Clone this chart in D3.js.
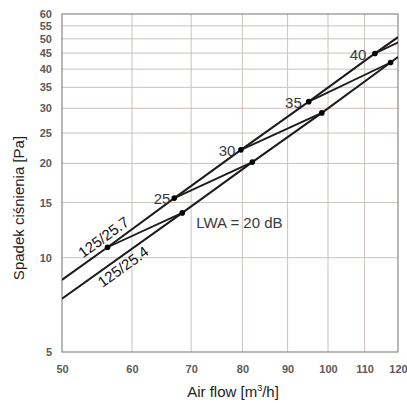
<!DOCTYPE html>
<meta charset="utf-8">
<script src="https://d3js.org/d3.v7.min.js"></script>
<style>
  body { margin: 0; background: #fff; }
  svg text { font-family: "Liberation Sans", Arial, sans-serif; }
</style>
<div id="chart"></div>
<script>
// data
var xTicks = [50, 60, 70, 80, 90, 100, 110, 120];
var yTicks = [5, 10, 15, 20, 25, 30, 35, 40, 45, 50, 55, 60];

// 125/25.7 (upper line)
var upperFlow = [50, 56.3, 67.0, 79.7, 95.1, 113.0, 120];
var upperDp   = [8.5, 10.8, 15.5, 22.1, 31.5, 44.9, 50.6];
// 125/25.4 (lower line)
var lowerFlow = [50, 68.4, 82.1, 98.4, 117.7, 120];
var lowerDp   = [7.4, 13.9, 20.2, 29.0, 42.0, 43.7];

// LWA points on each line (dB)
var lwaLevels = [20, 25, 30, 35, 40];
var lwaUpperFlow = [56.3, 67.0, 79.7, 95.1, 113.0];
var lwaUpperDp   = [10.8, 15.5, 22.1, 31.5, 44.9];
var lwaLowerFlow = [68.4, 82.1, 98.4, 117.7, 139.9];
var lwaLowerDp   = [13.9, 20.2, 29.0, 42.0, 59.7];

var W = 407, H = 403;
var margin = {top: 14, right: 9, bottom: 51, left: 62},
    width = W - margin.left - margin.right,
    height = H - margin.top - margin.bottom;

var svg = d3.select("#chart").append("svg")
    .attr("width", W)
    .attr("height", H);

var g = svg.append("g")
    .attr("transform", `translate(${margin.left},${margin.top})`);

var x = d3.scaleLog().domain([50, 120]).range([0, width]);
var y = d3.scaleLog().domain([5, 60]).range([height, 0]);

g.append("clipPath").attr("id", "clip")
  .append("rect").attr("width", width).attr("height", height);

// grid
g.append("g")
  .selectAll("line")
  .data(yTicks.slice(1, -1))
  .join("line")
    .attr("x1", 0).attr("x2", width)
    .attr("y1", d => y(d)).attr("y2", d => y(d))
    .attr("stroke", "#cbc0bd").attr("stroke-width", 1);
g.append("g")
  .selectAll("line")
  .data(xTicks.slice(1, -1))
  .join("line")
    .attr("y1", 0).attr("y2", height)
    .attr("x1", d => x(d)).attr("x2", d => x(d))
    .attr("stroke", "#cbc0bd").attr("stroke-width", 1);

// frame
g.append("rect")
  .attr("width", width).attr("height", height)
  .attr("fill", "none").attr("stroke", "#8c8886").attr("stroke-width", 1.2);

// axes
var xAxis = g.append("g")
  .attr("transform", `translate(0,${height})`)
  .call(d3.axisBottom(x).tickValues(xTicks).tickFormat(d3.format("d")).tickSize(0).tickPadding(13));
var yAxis = g.append("g")
  .call(d3.axisLeft(y).tickValues(yTicks).tickFormat(d3.format("d")).tickSize(0).tickPadding(10));
[xAxis, yAxis].forEach(function(a) {
  a.select(".domain").remove();
  a.selectAll("text")
    .attr("fill", "#5a5a5a")
    .style("font-size", "11px")
    .style("font-weight", "bold")
    .style("font-family", "'Liberation Sans', Arial, sans-serif");
});

// lines
var line = d3.line().x(d => x(d[0])).y(d => y(d[1]));
var plot = g.append("g").attr("clip-path", "url(#clip)");

plot.append("path")
  .datum(d3.zip(upperFlow, upperDp))
  .attr("d", line).attr("fill", "none")
  .attr("stroke", "#1c1c1c").attr("stroke-width", 2);
plot.append("path")
  .datum(d3.zip(lowerFlow, lowerDp))
  .attr("d", line).attr("fill", "none")
  .attr("stroke", "#1c1c1c").attr("stroke-width", 2);

// constant LWA lines
plot.selectAll(".lwa")
  .data(lwaLevels)
  .join("line")
    .attr("class", "lwa")
    .attr("x1", (d, i) => x(lwaUpperFlow[i]))
    .attr("y1", (d, i) => y(lwaUpperDp[i]))
    .attr("x2", (d, i) => x(lwaLowerFlow[i]))
    .attr("y2", (d, i) => y(lwaLowerDp[i]))
    .attr("stroke", "#1c1c1c").attr("stroke-width", 1.8);

// dots
plot.selectAll(".du")
  .data(lwaLevels)
  .join("circle")
    .attr("cx", (d, i) => x(lwaUpperFlow[i]))
    .attr("cy", (d, i) => y(lwaUpperDp[i]))
    .attr("r", 2.8).attr("fill", "#000");
plot.selectAll(".dl")
  .data(lwaLevels)
  .join("circle")
    .attr("cx", (d, i) => x(lwaLowerFlow[i]))
    .attr("cy", (d, i) => y(lwaLowerDp[i]))
    .attr("r", 2.8).attr("fill", "#000");

// LWA numbers next to upper dots
g.selectAll(".lwaLabel")
  .data(lwaLevels.slice(1))
  .join("text")
    .attr("x", (d, i) => x(lwaUpperFlow[i + 1]) - 4 - i * 1.5)
    .attr("y", (d, i) => y(lwaUpperDp[i + 1]) + 1)
    .attr("dy", "0.35em")
    .attr("text-anchor", "end")
    .attr("fill", "#3a3a3a")
    .style("font-size", "15px")
    .text(d => d);

g.append("text")
  .attr("x", x(lwaLowerFlow[0]) + 14)
  .attr("y", y(lwaLowerDp[0]) + 10)
  .attr("dy", "0.35em")
  .attr("fill", "#3a3a3a")
  .style("font-size", "15px")
  .text("LWA = " + lwaLevels[0] + " dB");

// line names, rotated along the lines
function angleOf(fx, fy) {
  var dx = x(fx[fx.length - 1]) - x(fx[0]);
  var dy = y(fy[fy.length - 1]) - y(fy[0]);
  return Math.atan2(dy, dx) * 180 / Math.PI;
}
var aU = angleOf(upperFlow, upperDp), aL = angleOf(lowerFlow, lowerDp);
var pU = [x(53.2), y(upperDp[0] * Math.pow(53.2 / 50, 2.04))];
var pL = [x(54.3), y(lowerDp[0] * Math.pow(54.3 / 50, 2.03))];

g.append("text")
  .attr("transform", `translate(${pU[0]},${pU[1]}) rotate(${aU})`)
  .attr("dy", -5)
  .attr("fill", "#111")
  .style("font-size", "15px")
  .text("125/25.7");
g.append("text")
  .attr("transform", `translate(${pL[0]},${pL[1]}) rotate(${aL})`)
  .attr("dy", 15)
  .attr("fill", "#111")
  .style("font-size", "15px")
  .text("125/25.4");

// axis titles
var xt = svg.append("text")
  .attr("x", margin.left + width / 2 + 3)
  .attr("y", 397)
  .attr("text-anchor", "middle")
  .attr("fill", "#222")
  .style("font-size", "15px");
xt.append("tspan").text("Air flow [m");
xt.append("tspan").attr("dy", -6).style("font-size", "9px").text("3");
xt.append("tspan").attr("dy", 6).text("/h]");

svg.append("text")
  .attr("transform", `translate(24,208) rotate(-90)`)
  .attr("text-anchor", "middle")
  .attr("fill", "#222")
  .style("font-size", "15px")
  .text("Spadek ciśnienia [Pa]");
</script>
